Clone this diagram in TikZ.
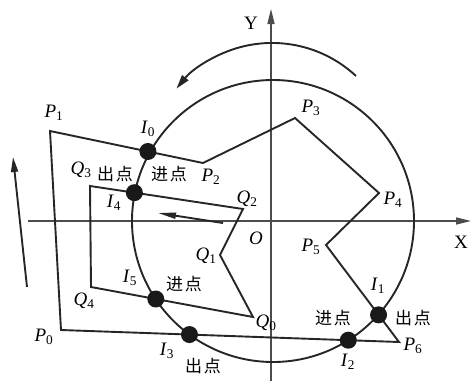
\documentclass[tikz,border=0pt]{standalone}
\usepackage{fontspec}
\setmainfont{Liberation Serif}
\newfontfamily\cjk{Noto Sans CJK SC}
\usetikzlibrary{arrows.meta,calc}
\newcommand{\pt}[2]{\textit{#1}\textsubscript{#2}}
\newcommand{\cn}[2]{{\cjk #1\kern2pt#2}}
\begin{document}
\begin{tikzpicture}[x=1pt,y=-1pt,
    edge/.style={line width=1.9pt,draw=black!85,line join=miter},
    axis/.style={line width=1.5pt,draw=black!70,-{Triangle[length=15pt,width=7pt]}},
    dot/.style={circle,fill=black!90,inner sep=0pt,minimum size=17pt},
    tag/.style={font=\fontsize{19}{21}\selectfont,inner sep=0pt},
    cntag/.style={font=\fontsize{17}{19}\selectfont,inner sep=0pt}]
    \useasboundingbox (0,0) rectangle (476,381);
    % axes
    \coordinate (xs) at (28,221);
    \coordinate (xe) at (471,221);
    \coordinate (ys) at (271,381);
    \coordinate (ye) at (271,9);
    \draw [axis] (xs) -- (xe);
    \draw [axis] (ys) -- (ye);
    \node [tag] (xl) at (461,242) {X};
    \node [tag] (yl) at (251,23) {Y};
    \node [tag] (o) at (256,238) {\textit{O}};
    % circle and rotation
    \coordinate (c) at (273,221);
    \draw [edge] (c) circle [radius=141];
    \draw [edge,-{Triangle[length=14pt,width=8pt]}] (356,76) arc [start angle=-47,end angle=-141,radius=123];
    % outer contour
    \coordinate (P0) at (61,330);
    \coordinate (P1) at (50,131);
    \coordinate (P2) at (203,163);
    \coordinate (P3) at (295,118);
    \coordinate (P4) at (379,193);
    \coordinate (P5) at (326,245);
    \coordinate (P6) at (399,342);
    \draw [edge] (P0) -- (P1) -- (P2) -- (P3) -- (P4) -- (P5) -- (P6) -- cycle;
    % inner contour
    \coordinate (Q0) at (253,317);
    \coordinate (Q1) at (220,255);
    \coordinate (Q2) at (243,209);
    \coordinate (Q3) at (90,186);
    \coordinate (Q4) at (91,287);
    \draw [edge] (Q0) -- (Q1) -- (Q2) -- (Q3) -- (Q4) -- cycle;
    % crossing points
    \node [dot] (I0) at ($(P1)!0.64!(P2)$) {};
    \node [dot] (I1) at ($(P5)!0.72!(P6)$) {};
    \node [dot] (I2) at ($(P6)!0.15!(P0)$) {};
    \node [dot] (I3) at ($(P6)!0.62!(P0)$) {};
    \node [dot] (I4) at ($(Q3)!0.29!(Q2)$) {};
    \node [dot] (I5) at ($(Q0)!0.6!(Q4)$) {};
    % direction marks
    \coordinate (la) at (27,287);
    \coordinate (lb) at (13,157);
    \draw [edge,-{Triangle[length=15pt,width=7pt]}] (la) -- (lb);
    \coordinate (ma) at (223,223);
    \coordinate (mb) at (158,213);
    \draw [edge,-{Triangle[length=18pt,width=6pt]}] (ma) -- (mb);
    % labels
    \node [tag] (lP0) at (44,337) {\pt{P}{0}};
    \node [tag] (lP1) at (54,113) {\pt{P}{1}};
    \node [tag] (lP2) at (211,177) {\pt{P}{2}};
    \node [tag] (lP3) at (311,108) {\pt{P}{3}};
    \node [tag] (lP4) at (393,200) {\pt{P}{4}};
    \node [tag] (lP5) at (311,247) {\pt{P}{5}};
    \node [tag] (lP6) at (413,346) {\pt{P}{6}};
    \node [tag] (lQ0) at (266,323) {\pt{Q}{0}};
    \node [tag] (lQ1) at (206,256) {\pt{Q}{1}};
    \node [tag] (lQ2) at (247,199) {\pt{Q}{2}};
    \node [tag] (lQ3) at (81,170) {\pt{Q}{3}};
    \node [tag] (lQ4) at (84,301) {\pt{Q}{4}};
    \node [tag] (lI0) at (148,129) {\pt{I}{0}};
    \node [tag] (lI1) at (378,286) {\pt{I}{1}};
    \node [tag] (lI2) at (348,362) {\pt{I}{2}};
    \node [tag] (lI3) at (167,351) {\pt{I}{3}};
    \node [tag] (lI4) at (114,203) {\pt{I}{4}};
    \node [tag] (lI5) at (130,278) {\pt{I}{5}};
    \node [cntag] (out4) at (115,174) {\cn{出}{点}};
    \node [cntag] (in0) at (169,174) {\cn{进}{点}};
    \node [cntag] (in5) at (184,284) {\cn{进}{点}};
    \node [cntag] (out3) at (203,366) {\cn{出}{点}};
    \node [cntag] (in2) at (333,318) {\cn{进}{点}};
    \node [cntag] (out1) at (413,318) {\cn{出}{点}};
\end{tikzpicture}
\end{document}
